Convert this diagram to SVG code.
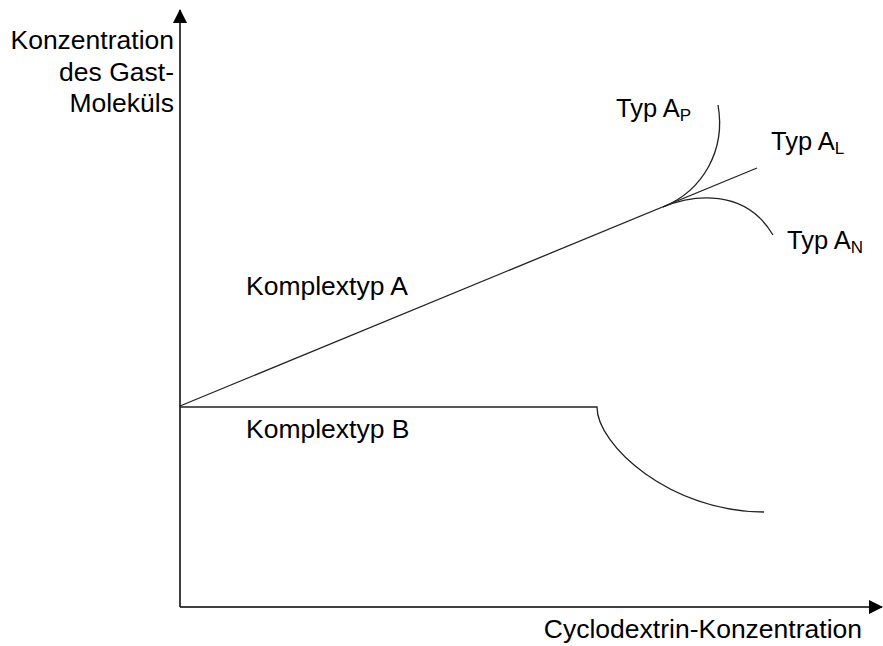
<svg xmlns="http://www.w3.org/2000/svg" width="883" height="646" viewBox="0 0 883 646">
<style>
  text { font-family: "Liberation Sans", Arial, sans-serif; font-size: 26.5px; fill: #000; }
  .typ { font-size: 25.5px; }
  .sub { font-size: 17px; }
  .axis { stroke: #000; stroke-width: 1.5; fill: none; }
  .curve { stroke: #222; stroke-width: 1.3; fill: none; }
</style>
<defs>
  <marker id="arrow" viewBox="0 0 14 14" refX="13" refY="7" markerWidth="14" markerHeight="14" markerUnits="userSpaceOnUse" orient="auto">
    <path d="M0,0 L14,7 L0,14 Z" fill="#000"/>
  </marker>
</defs>
<rect width="883" height="646" fill="#fff"/>
<g id="connectors">
  <path id="y-axis" class="axis" d="M180,607 L180,10" marker-end="url(#arrow)"/>
  <path id="x-axis" class="axis" d="M180,607 L882,607" marker-end="url(#arrow)"/>
  <path id="line-A" class="curve" d="M180,406 L757,168"/>
  <path id="curve-AP" class="curve" d="M663,207 C703,190.5 726,150 718,105"/>
  <path id="curve-AN" class="curve" d="M663,207 C693,194.6 745,188 773,235"/>
  <path id="line-B" class="curve" d="M180,407 L597,407 C597,445 670,512 764,512"/>
</g>
<g id="label-y">
  <text x="174" y="49" text-anchor="end">Konzentration</text>
  <text x="174" y="81" text-anchor="end">des Gast-</text>
  <text x="174" y="112" text-anchor="end">Moleküls</text>
</g>
<g id="label-x">
  <text x="862" y="638" text-anchor="end">Cyclodextrin-Konzentration</text>
</g>
<g id="label-A"><text x="246" y="295">Komplextyp A</text></g>
<g id="label-B"><text x="246" y="438">Komplextyp B</text></g>
<g id="label-AP"><text class="typ" x="616" y="117">Typ A<tspan class="sub" dy="4">P</tspan></text></g>
<g id="label-AL"><text class="typ" x="771" y="150">Typ A<tspan class="sub" dy="4">L</tspan></text></g>
<g id="label-AN"><text class="typ" x="787" y="249">Typ A<tspan class="sub" dy="4">N</tspan></text></g>
</svg>
